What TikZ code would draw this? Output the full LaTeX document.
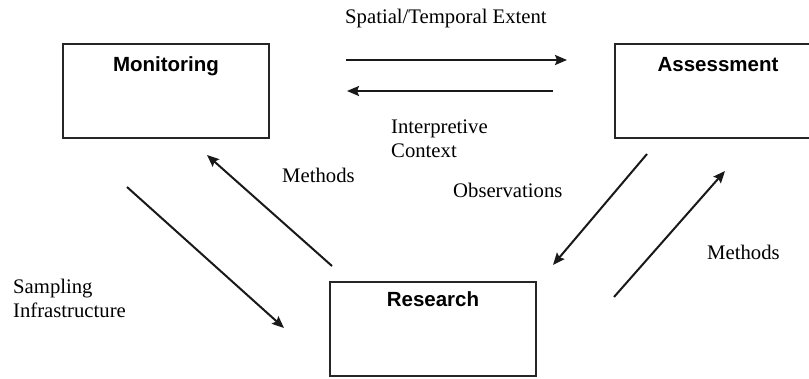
\documentclass[tikz,border=0pt]{standalone}
\usepackage{fontspec}
\setmainfont{Liberation Serif}
\newfontfamily\boxfont{Liberation Sans}
\usetikzlibrary{arrows.meta}

\begin{document}
\begin{tikzpicture}[x=1pt,y=-1pt,>={Stealth[length=12pt,width=10pt,inset=2pt]}]
\tikzset{block/.style=
	{draw=black!85,line width=1.8pt,minimum width=206pt,minimum height=94pt,inner sep=0pt},
	title/.style=
	{font=\boxfont\bfseries\fontsize{20.5}{24}\selectfont,anchor=base,inner sep=0pt},
	tag/.style=
	{font=\fontsize{20.7}{24}\selectfont,align=left,anchor=base west,inner sep=0pt},
	flow/.style=
	{->,line width=2pt,draw=black!90}}
\useasboundingbox (0,0) rectangle (809,378);
% the three boxes
\node[block] (mon) at (166,91) {};
\node[block] (assess) at (718,91) {};
\node[block] (res) at (433,329) {};
\node[title] (montitle) at ([yshift=-28pt]mon.north) {Monitoring};
\node[title] (assesstitle) at ([yshift=-28pt]assess.north) {Assessment};
\node[title] (restitle) at ([yshift=-25pt]res.north) {Research};
% arrow ends
\coordinate (ext1) at (346,60);
\coordinate (ext2) at (567,60);
\coordinate (ctx1) at (553,91);
\coordinate (ctx2) at (347,91);
\coordinate (meth1) at (332,266);
\coordinate (meth2) at (207,155);
\coordinate (samp1) at (127,187);
\coordinate (samp2) at (284,328);
\coordinate (obs1) at (647,154);
\coordinate (obs2) at (553,265);
\coordinate (amet1) at (614,297);
\coordinate (amet2) at (725,171);
\draw[flow] (ext1) -- (ext2);
\draw[flow] (ctx1) -- (ctx2);
\draw[flow] (meth1) -- (meth2);
\draw[flow] (samp1) -- (samp2);
\draw[flow] (obs1) -- (obs2);
\draw[flow] (amet1) -- (amet2);
% labels (base of a two line label is its last line)
\node[tag] (extent) at (345,23) {Spatial/Temporal Extent};
\node[tag] (context) at (391,157) {Interpretive\\Context};
\node[tag] (methodsleft) at (282,182) {Methods};
\node[tag] (sampling) at (13,317) {Sampling\\Infrastructure};
\node[tag] (observations) at (453,197) {Observations};
\node[tag] (methodsright) at (707,259) {Methods};
\end{tikzpicture}
\end{document}
